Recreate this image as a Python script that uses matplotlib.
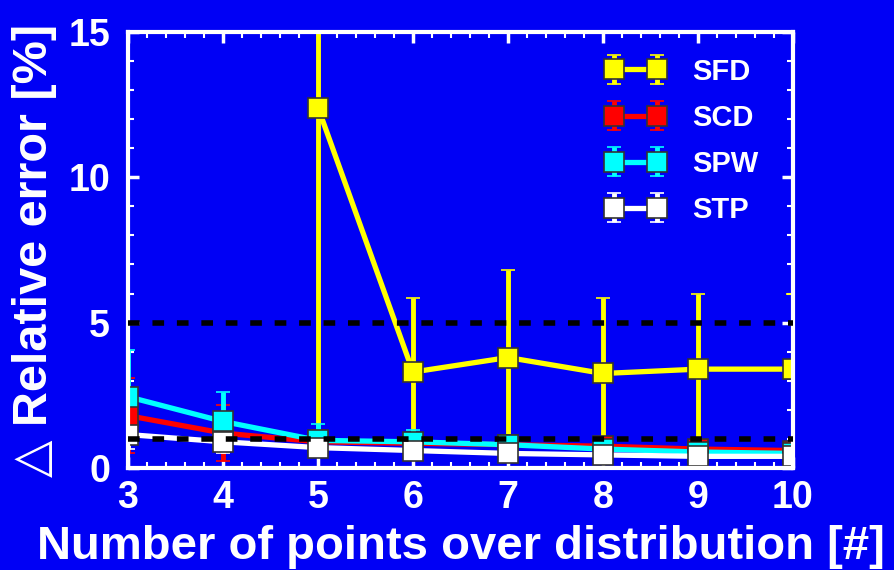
import numpy as np
import matplotlib
matplotlib.use('Agg')
import matplotlib.pyplot as plt
from matplotlib.ticker import MultipleLocator

plt.rcParams['font.family'] = ['Liberation Sans', 'DejaVu Sans']
plt.rcParams['font.weight'] = 'bold'

# data
n_points = [3, 4, 5, 6, 7, 8, 9, 10]
series_names = ['SFD', 'SCD', 'SPW', 'STP']
sfd = [np.nan, np.nan, 12.4, 3.3, 3.8, 3.25, 3.4, 3.4]
sfd_err = [np.nan, np.nan, 12.0, 2.55, 3.0, 2.6, 2.6, 2.6]
scd = [1.8, 1.2, 0.9, 0.85, 0.8, 0.75, 0.65, 0.6]
scd_err = [1.3, 0.95, 0.4, 0.3, 0.25, 0.25, 0.2, 0.2]
spw = [2.45, 1.6, 0.95, 0.9, 0.8, 0.65, 0.55, 0.5]
spw_err = [1.6, 1.0, 0.55, 0.4, 0.35, 0.3, 0.25, 0.25]
stp = [1.15, 0.9, 0.7, 0.6, 0.5, 0.45, 0.4, 0.4]
stp_err = [0.5, 0.4, 0.3, 0.25, 0.2, 0.2, 0.15, 0.15]
limits = [1, 5]

bg = '#0000F5'
colors = ['#FFFF00', '#FF0000', '#00FFFF', '#FFFFFF']

fig = plt.figure(figsize=(8.94, 5.70), dpi=100, facecolor=bg)
ax = fig.add_axes([0.1432, 0.179, 0.7438, 0.765])
ax.set_facecolor(bg)

for name, y, err, c in zip(series_names, [sfd, scd, spw, stp],
                           [sfd_err, scd_err, spw_err, stp_err], colors):
    ax.errorbar(n_points, y, yerr=err, color=c, lw=3.8, elinewidth=3.5,
                capsize=5, capthick=2, marker='s', markersize=15,
                markerfacecolor=c, markeredgecolor='#333333',
                markeredgewidth=1.2, label=name)

for lim in limits:
    ax.axhline(lim, color='black', lw=4, ls=(0, (2.1, 2.3)), zorder=10)

ax.set_xlim(3, 10)
ax.set_ylim(0, 15)
ax.xaxis.set_major_locator(MultipleLocator(1))
ax.xaxis.set_minor_locator(MultipleLocator(0.2))
ax.yaxis.set_major_locator(MultipleLocator(5))
ax.yaxis.set_minor_locator(MultipleLocator(1))
ax.tick_params(which='both', direction='in', top=True, right=True,
               color='white', labelcolor='white')
ax.tick_params(which='major', length=8, width=2.5, labelsize=27)
ax.tick_params(axis='x', which='major', pad=9)
ax.tick_params(axis='y', which='major', pad=13)
ax.tick_params(which='minor', length=4, width=1.5)
for s in ax.spines.values():
    s.set_color('white')
    s.set_linewidth(3)

ax.set_xlabel('Number of points over distribution [#]', color='white',
              fontsize=34, fontweight='bold', labelpad=6)
ax.set_ylabel('\u25b3 Relative error [%]', color='white',
              fontsize=35, fontweight='bold', labelpad=8)

leg = ax.legend(loc='upper left', frameon=False, fontsize=21,
                labelcolor='white', numpoints=2, handlelength=2.1,
                handletextpad=0.9, borderpad=0, borderaxespad=0,
                labelspacing=0.62, bbox_to_anchor=(0.717, 0.941))

fig.savefig('out.png', dpi=100, facecolor=bg)
